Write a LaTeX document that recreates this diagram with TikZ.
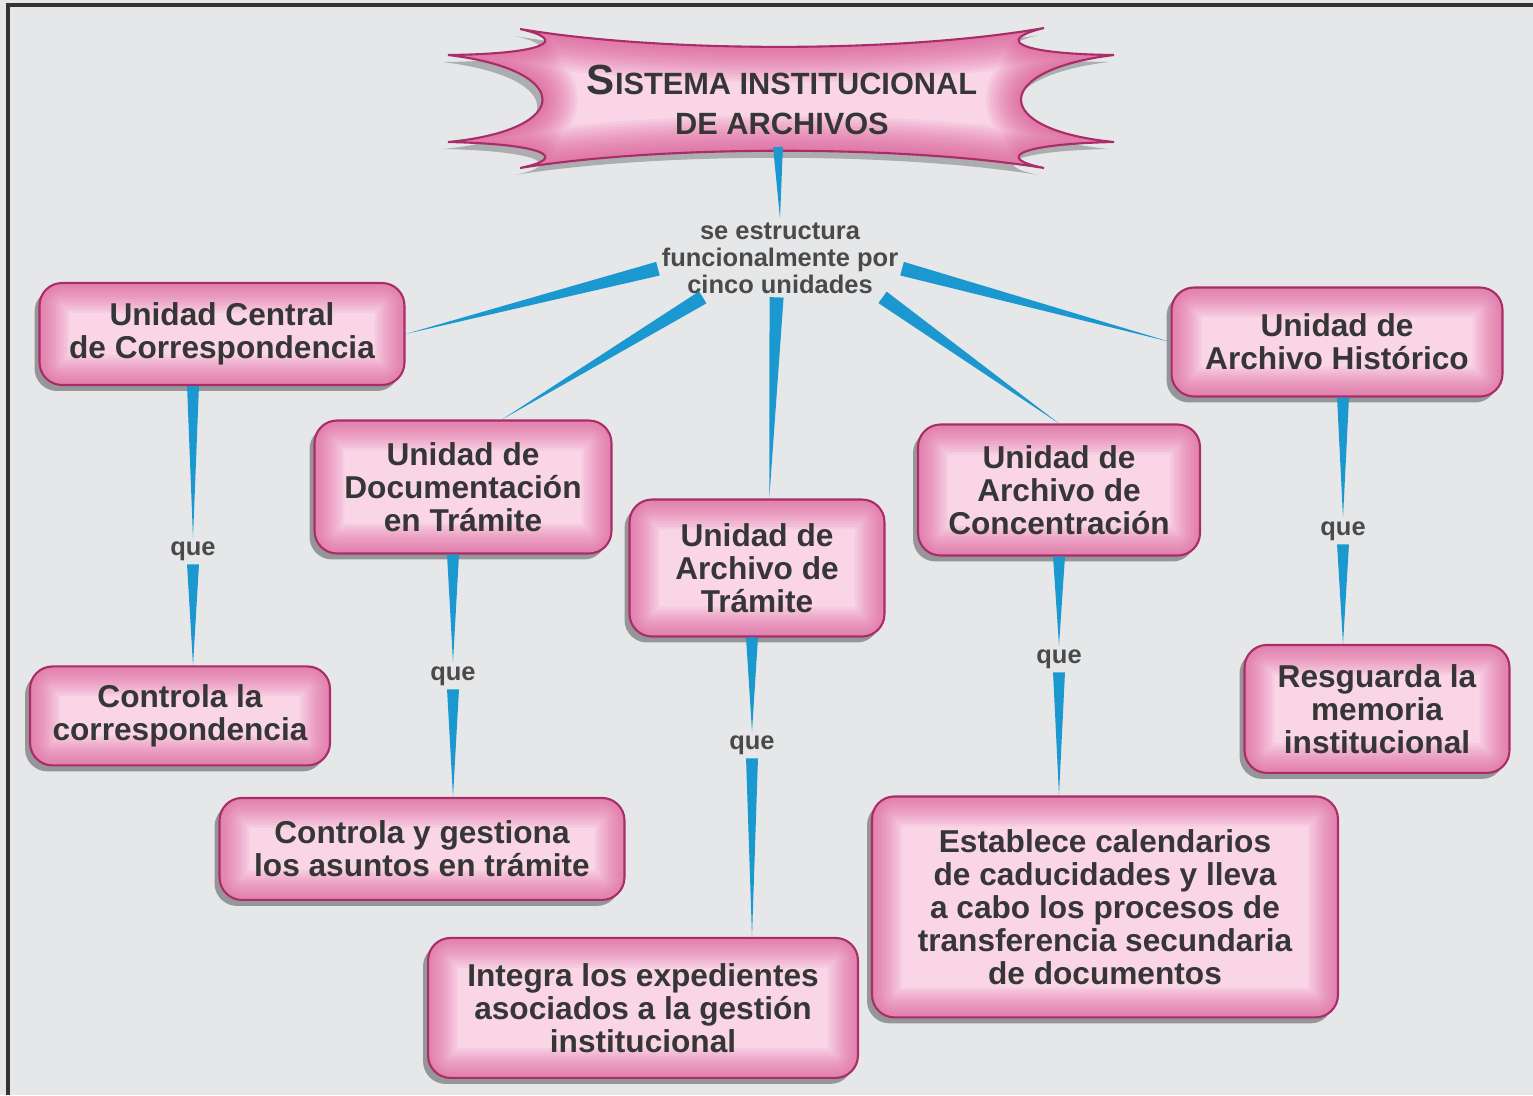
\documentclass[tikz,border=0pt]{standalone}
\usepackage{fontspec}
\setmainfont{Liberation Sans}
\usetikzlibrary{calc,
                  positioning,
                  shadows}
\definecolor{paper}{HTML}{E6E7E9}
\definecolor{framegray}{HTML}{333333}
\definecolor{wedgeblue}{HTML}{1B98CF}
\definecolor{boxline}{HTML}{A92D68}
\definecolor{boxfill}{HTML}{F9D5E6}
\definecolor{boxglow}{HTML}{D8478A}
\definecolor{txtgray}{HTML}{363636}
\newcommand{\boxfont}{\fontsize{18}{18.8}\selectfont\bfseries}
\newcommand{\linkfont}{\fontsize{14.5}{15.4}\selectfont\bfseries}
\newcommand{\titlefont}{\fontsize{17.5}{23}\selectfont\bfseries}
\def\bannerpath{(-262,-71) .. controls (-120,-47) and (120,-47) .. (262,-72)
  .. controls (212,-60) and (236,-46) .. (332,-45)
  .. controls (208,-30) and (208,30) .. (332,42)
  .. controls (236,44) and (212,58) .. (262,68)
  .. controls (120,45) and (-120,45) .. (-262,68)
  .. controls (-212,58) and (-236,44) .. (-334,42)
  .. controls (-208,30) and (-208,-30) .. (-334,-45)
  .. controls (-236,-46) and (-212,-60) .. (-262,-71) -- cycle}
\begin{document}
\begin{tikzpicture}[x=0.02cm, y=-0.02cm, every node/.style={text=txtgray}]
    \tikzset{
    unitbox/.style={draw=boxline, line width=1.2pt, rounded corners=0.45cm, fill=boxfill, align=center, font=\boxfont, inner sep=4pt,
        drop shadow={shadow xshift=-0.1cm, shadow yshift=-0.12cm, opacity=0.35, fill=black},
        path picture={\foreach \w in {34,31,...,1} {\draw[line width=\w pt, draw=boxglow, opacity=0.07, rounded corners=0.45cm] (path picture bounding box.south west) rectangle (path picture bounding box.north east);}}},
    link/.style={font=\linkfont, align=center, inner sep=2pt, text=txtgray!90},
    wedge/.style={fill=wedgeblue, to path={($(\tikztostart)!#1!90:(\tikztotarget)$) -- (\tikztotarget) -- ($(\tikztostart)!#1!-90:(\tikztotarget)$) -- cycle}},
    wedge/.default=3.4pt
}
\useasboundingbox (0,0) rectangle (1533,1095);
\fill[paper] (0,0) rectangle (1533,1095);
\draw[framegray, line width=0.08cm] (8,1095) -- (8,5) -- (1533,5);

% title banner
\coordinate (titlec) at (782,100);
\begin{scope}[shift={(titlec)}]
    \fill[black, opacity=0.25, xshift=-3pt, yshift=-4pt] \bannerpath;
    \fill[boxfill] \bannerpath;
    \begin{scope}
        \clip \bannerpath;
        \foreach \w in {40,37,...,1} {\draw[line width=\w pt, boxglow, opacity=0.07] \bannerpath;}
    \end{scope}
    \draw[boxline, line width=1.2pt] \bannerpath;
\end{scope}
\node[align=center, font=\titlefont] (title) at (titlec) {{\fontsize{24}{23}\selectfont S}ISTEMA INSTITUCIONAL\\DE ARCHIVOS};
\coordinate (bannerbottom) at (778,147);
\node[link] (lbl) at (780,258) {se estructura\\funcionalmente por\\cinco unidades};

% units
\node[unitbox, minimum width=7.3cm, minimum height=2.04cm] (ucc) at (222,334) {Unidad Central\\de Correspondencia};
\node[unitbox, minimum width=5.94cm, minimum height=2.66cm] (udt) at (463,487) {Unidad de\\Documentación\\en Trámite};
\node[unitbox, minimum width=5.1cm, minimum height=2.74cm] (uat) at (757,568) {Unidad de\\Archivo de\\Trámite};
\node[unitbox, minimum width=5.64cm, minimum height=2.62cm] (uac) at (1059,490) {Unidad de\\Archivo de\\Concentración};
\node[unitbox, minimum width=6.62cm, minimum height=2.18cm] (uah) at (1337,342) {Unidad de\\Archivo Histórico};

% que labels
\node[link, below of=ucc, node distance=4.34cm, xshift=-0.58cm] (uccque) {que};
\node[link, below of=udt, node distance=3.78cm, xshift=-0.2cm] (udtque) {que};
\node[link, below of=uat, node distance=3.54cm, xshift=-0.1cm] (uatque) {que};
\node[link, below of=uac, node distance=3.38cm] (uacque) {que};
\node[link, below of=uah, node distance=3.78cm, xshift=0.12cm] (uahque) {que};

% tasks
\node[unitbox, minimum width=6cm, minimum height=1.98cm, below of=ucc, node distance=7.64cm, xshift=-0.84cm] (ucctask) {Controla la\\correspondencia};
\node[unitbox, minimum width=8.1cm, minimum height=2.04cm, below of=udt, node distance=7.24cm, xshift=-0.82cm] (udttask) {Controla y gestiona\\los asuntos en trámite};
\node[unitbox, minimum width=8.6cm, minimum height=2.8cm, below of=uat, node distance=8.8cm, xshift=-2.28cm] (uattask) {Integra los expedientes\\asociados a la gestión\\institucional};
\node[unitbox, minimum width=9.32cm, minimum height=4.42cm, below of=uac, node distance=8.34cm, xshift=0.92cm] (uactask) {Establece calendarios\\de caducidades y lleva\\a cabo los procesos de\\transferencia secundaria\\de documentos};
\node[unitbox, minimum width=5.3cm, minimum height=2.56cm, below of=uah, node distance=7.34cm, xshift=0.8cm] (uahtask) {Resguarda la\\memoria\\institucional};

% connectors
\path[wedge=2.8pt] (bannerbottom) to (lbl.north);
\path[wedge=4pt] (lbl.185) to (ucc.east);
\path[wedge=4pt] (lbl.-153) to (udt.60);
\path[wedge=4pt] (lbl.-95) to (uat.80);
\path[wedge=4pt] (lbl.-21) to (uac.north);
\path[wedge=4pt] (lbl.-5) to (uah.west);
\path[wedge] (ucc.south -| uccque) to (uccque.north);
\path[wedge] (uccque.south) to (uccque |- ucctask.north);
\path[wedge] (udt.south -| udtque) to (udtque.north);
\path[wedge] (udtque.south) to (udtque |- udttask.north);
\path[wedge] (uat.south -| uatque) to (uatque.north);
\path[wedge] (uatque.south) to (uatque |- uattask.north);
\path[wedge] (uac.south -| uacque) to (uacque.north);
\path[wedge] (uacque.south) to (uacque |- uactask.north);
\path[wedge] (uah.south -| uahque) to (uahque.north);
\path[wedge] (uahque.south) to (uahque |- uahtask.north);
\end{tikzpicture}
\end{document}
